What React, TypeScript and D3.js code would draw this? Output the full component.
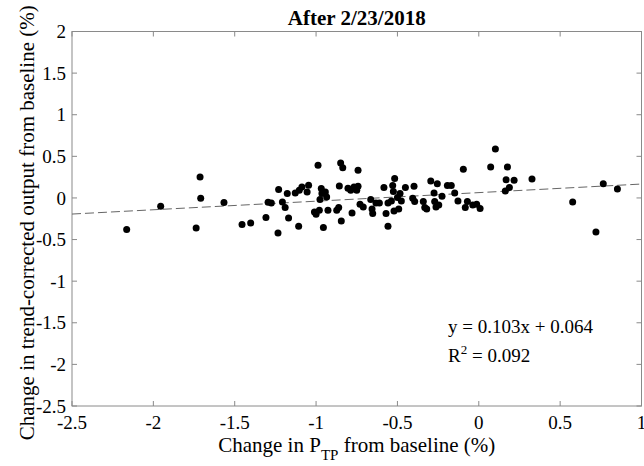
import React from "react";
import * as d3 from "d3";

const W = 644;
const H = 466;

const xTicks = [-2.5, -2, -1.5, -1, -0.5, 0, 0.5, 1];
const yTicks = [2, 1.5, 1, 0.5, 0, -0.5, -1, -1.5, -2, -2.5];

const xVals = [
  -2.164, -1.955, -1.713, -1.709, -1.737, -1.566, -1.455, -1.402, -1.308, -1.295,
  -1.275, -1.234, -1.23, -1.207, -1.19, -1.177, -1.169, -1.128, -1.107, -1.103,
  -1.087, -1.055, -1.046, -1.01, -1.0, -0.988, -0.98, -0.976, -0.968, -0.964,
  -0.955, -0.943, -0.935, -0.927, -0.873, -0.861, -0.857, -0.849, -0.836, -0.845,
  -0.804, -0.787, -0.779, -0.767, -0.75, -0.742, -0.742, -0.73, -0.71, -0.664,
  -0.656, -0.652, -0.632, -0.611, -0.583, -0.57, -0.558, -0.558, -0.537, -0.529,
  -0.525, -0.517, -0.521, -0.492, -0.5, -0.484, -0.476, -0.451, -0.406, -0.398,
  -0.394, -0.341, -0.332, -0.32, -0.295, -0.275, -0.271, -0.263, -0.255, -0.246,
  -0.226, -0.193, -0.169, -0.148, -0.128, -0.095, -0.083, -0.07, -0.037, -0.013,
  0.008, 0.073, 0.102, 0.163, 0.168, 0.176, 0.188, 0.217, 0.327, 0.577,
  0.72, 0.765, 0.852,
];
const yVals = [
  -0.379, -0.1, 0.252, -0.004, -0.36, -0.055, -0.32, -0.3, -0.235, -0.052,
  -0.06, -0.42, 0.1, -0.05, -0.115, 0.053, -0.24, 0.06, -0.34, 0.092,
  0.132, 0.072, 0.152, -0.168, -0.195, 0.392, -0.148, -0.02, 0.113, 0.053,
  -0.355, 0.072, 0.012, -0.148, -0.148, -0.115, 0.144, 0.42, 0.364, -0.276,
  0.116, 0.092, -0.18, 0.132, 0.092, 0.332, 0.14, -0.076, -0.108, -0.02,
  -0.132, -0.187, -0.06, -0.06, 0.125, -0.187, -0.34, -0.06, -0.036, 0.149,
  0.077, 0.233, -0.156, -0.132, 0.005, 0.053, -0.036, 0.125, -0.004, 0.14,
  -0.043, -0.043, -0.115, -0.132, 0.204, 0.06, -0.043, -0.108, 0.172, -0.084,
  0.02, 0.149, 0.149, 0.06, -0.036, 0.344, -0.115, -0.043, -0.084, -0.076,
  -0.127, 0.372, 0.588, 0.084, 0.22, 0.372, 0.125, 0.212, 0.228, -0.048,
  -0.408, 0.172, 0.108,
];

const slope = 0.103;
const intercept = 0.064;

const left = 72;
const right = 641.5;
const top = 31.5;
const bottom = 406;

export default function App() {
  const x = d3.scaleLinear().domain([-2.5, 1]).range([left, right]);
  const y = d3.scaleLinear().domain([-2.5, 2]).range([bottom, top]);
  const axisColor = "#8a8a8a";
  const font = "'Liberation Serif', 'Times New Roman', serif";
  const tick = 5;
  const pts = xVals.map((v, i) => [v, yVals[i]]);
  const line = d3.line<number>()
    .x((d) => x(d))
    .y((d) => y(slope * d + intercept));

  return (
    <svg width={W} height={H} style={{ position: "absolute", left: 0, top: 0, background: "#fff" }}
      fontFamily={font}>
      <rect x={0} y={0} width={W} height={H} fill="#fff" />
      <rect x={left} y={top} width={right - left} height={bottom - top} fill="none"
        stroke={axisColor} strokeWidth={1} />
      {xTicks.map((t) => (
        <g key={"xt" + t}>
          <line x1={x(t)} x2={x(t)} y1={bottom} y2={bottom - tick} stroke={axisColor} />
          <line x1={x(t)} x2={x(t)} y1={top} y2={top + tick} stroke={axisColor} />
          <text x={x(t)} y={429} fontSize={19} textAnchor="middle" fill="#000">
            {t}
          </text>
        </g>
      ))}
      {yTicks.map((t) => (
        <g key={"yt" + t}>
          <line x1={left} x2={left + tick} y1={y(t)} y2={y(t)} stroke={axisColor} />
          <line x1={right} x2={right - tick} y1={y(t)} y2={y(t)} stroke={axisColor} />
          <text x={66} y={y(t)} dy="0.35em" fontSize={19} textAnchor="end" fill="#000">
            {t}
          </text>
        </g>
      ))}
      <path d={line([-2.5, 1]) || ""} fill="none" stroke="#666" strokeWidth={1}
        strokeDasharray="9,4" />
      {pts.map((p, i) => (
        <circle key={i} cx={x(p[0])} cy={y(p[1])} r={3.5} fill="#000" />
      ))}
      <text x={(left + right) / 2} y={25} fontSize={21} fontWeight="bold" textAnchor="middle">
        After 2/23/2018
      </text>
      <text x={(left + right) / 2} y={452} fontSize={21} textAnchor="middle">
        Change in P<tspan fontSize={15} dy={8}>TP</tspan>
        <tspan dy={-8}> from baseline (%)</tspan>
      </text>
      <text transform={`translate(34,${(top + bottom) / 2 + 4}) rotate(-90)`} fontSize={21}
        textAnchor="middle">
        Change in trend-corrected output from baseline (%)
      </text>
      <text x={448} y={333} fontSize={19}>y = 0.103x + 0.064</text>
      <text x={448} y={362} fontSize={19}>
        R<tspan fontSize={13} dy={-8}>2</tspan>
        <tspan dy={8}> = 0.092</tspan>
      </text>
    </svg>
  );
}
